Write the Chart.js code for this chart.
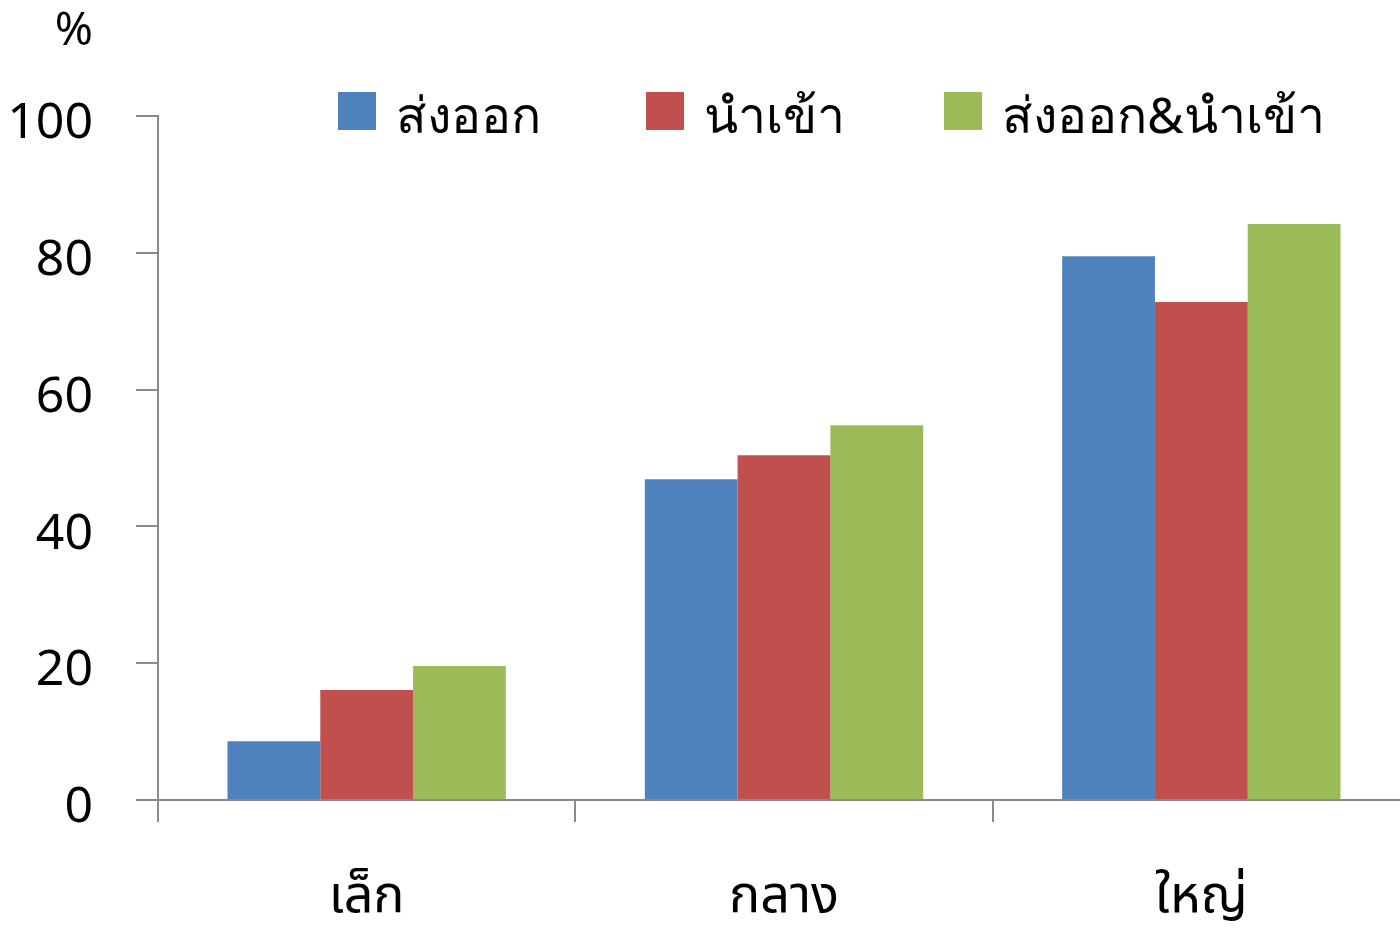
<!DOCTYPE html>
<html>
<head>
<meta charset="utf-8">
<script src="https://cdn.jsdelivr.net/npm/chart.js@4.4.1/dist/chart.umd.min.js"></script>
<style>
  html, body { margin: 0; padding: 0; background: #fff; overflow: hidden; width: 1400px; height: 928px; }
  #wrap { position: relative; width: 1410px; height: 928px; }
  #legend { position: absolute; top: 71px; left: 0; font-family: "Noto Sans", sans-serif; font-size: 50px; color: #000; }
  .item { position: absolute; white-space: nowrap; display: flex; align-items: center; }
  .sw { width: 38px; height: 38px; margin-right: 20px; }
  .tx { position: relative; top: 5px; }
</style>
</head>
<body>
<div id="wrap">
  <canvas id="c" width="1410" height="928"></canvas>
  <div id="legend"></div>
</div>
<script>
const categories = ['เล็ก', 'กลาง', 'ใหญ่'];
const seriesNames = ['ส่งออก', 'นำเข้า', 'ส่งออก&นำเข้า'];
const exportValues = [8.6, 46.9, 79.5];
const importValues = [16.1, 50.4, 72.8];
const bothValues = [19.6, 54.8, 84.2];
const yTicks = [0, 20, 40, 60, 80, 100];
const colors = ['#4F81BD', '#C0504D', '#9BBB59'];

const FONT = '"Noto Sans", "Noto Sans Thai", sans-serif';
const axisGray = '#8a8a8a';

const seriesValues = [exportValues, importValues, bothValues];

// percent sign above the value axis
const percentLabel = {
  id: 'percentLabel',
  afterDraw(chart) {
    const y = chart.scales.y;
    const ctx = chart.ctx;
    ctx.save();
    ctx.font = '46px ' + FONT;
    ctx.fillStyle = '#000';
    ctx.textAlign = 'right';
    ctx.textBaseline = 'middle';
    ctx.fillText('%', y.right - 22 - 43, y.top - 84);
    ctx.restore();
  }
};

const chart = new Chart(document.getElementById('c'), {
  type: 'bar',
  data: {
    labels: categories,
    datasets: seriesNames.map((name, i) => ({
      label: name,
      data: seriesValues[i],
      backgroundColor: colors[i],
      borderWidth: 0,
      categoryPercentage: 0.667,
      barPercentage: 1.0
    }))
  },
  options: {
    responsive: false,
    animation: false,
    layout: { padding: { top: 116, left: 0, right: 0, bottom: 0 } },
    plugins: { legend: { display: false }, tooltip: { enabled: false } },
    scales: {
      x: {
        offset: true,
        grid: { offset: true, drawOnChartArea: false, drawTicks: true, tickLength: 22, color: axisGray, lineWidth: 2 },
        border: { color: axisGray, width: 2 },
        ticks: { color: '#000', font: { family: FONT, size: 52 }, padding: 44 },
        afterFit(s) { s.height = 128; }
      },
      y: {
        min: 0, max: 100,
        afterBuildTicks(s) { s.ticks = yTicks.map(v => ({ value: v })); },
        grid: { drawOnChartArea: false, drawTicks: true, tickLength: 22, color: axisGray, lineWidth: 2 },
        border: { color: axisGray, width: 2 },
        ticks: { color: '#000', font: { family: FONT, size: 50 }, padding: 43, labelOffset: 8 },
        afterFit(s) { s.width = 158; }
      }
    }
  },
  plugins: [percentLabel]
});

// legend row laid out over the plot
const legendEl = document.getElementById('legend');
const legendX = [338, 646, 944];
seriesNames.forEach((name, i) => {
  const item = document.createElement('div');
  item.className = 'item';
  item.style.left = legendX[i] + 'px';
  const sw = document.createElement('div');
  sw.className = 'sw';
  sw.style.background = colors[i];
  const tx = document.createElement('span');
  tx.className = 'tx';
  tx.textContent = name;
  item.appendChild(sw);
  item.appendChild(tx);
  legendEl.appendChild(item);
});
</script>
</body>
</html>
